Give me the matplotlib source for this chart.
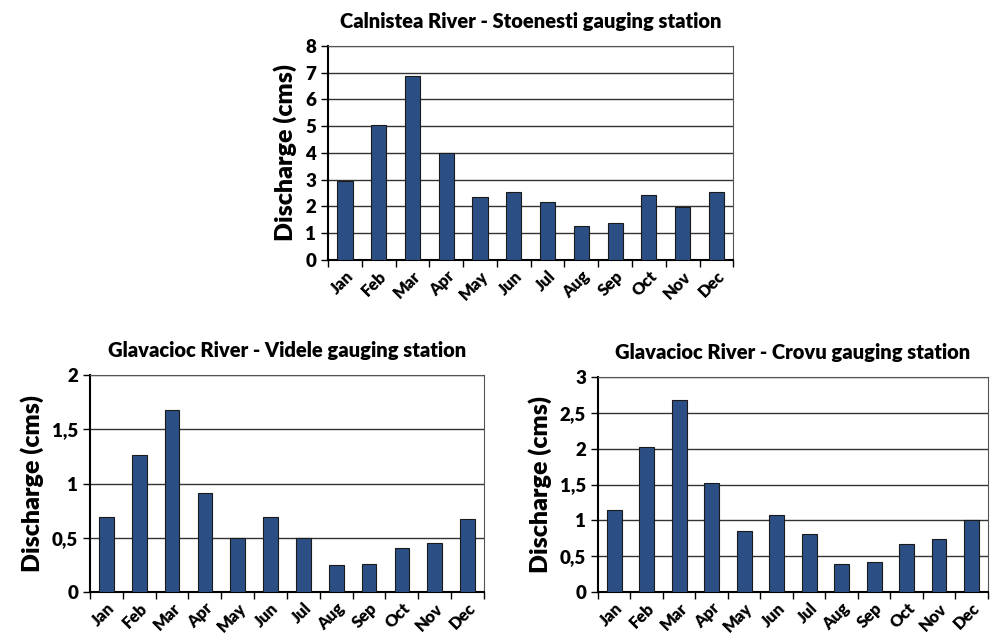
import matplotlib.pyplot as plt
from matplotlib.ticker import FuncFormatter, MultipleLocator, FixedLocator
import numpy as np

plt.rcParams['font.family'] = ['Lato', 'DejaVu Sans']
plt.rcParams['font.weight'] = 'bold'

months = ['Jan', 'Feb', 'Mar', 'Apr', 'May', 'Jun',
          'Jul', 'Aug', 'Sep', 'Oct', 'Nov', 'Dec']

# mean monthly discharge (cms) per gauging station
stoenesti = [2.97, 5.05, 6.86, 3.98, 2.35, 2.53, 2.17, 1.26, 1.37, 2.44, 1.99, 2.53]
videle = [0.69, 1.26, 1.68, 0.91, 0.50, 0.69, 0.50, 0.245, 0.257, 0.41, 0.45, 0.67]
crovu = [1.15, 2.03, 2.68, 1.52, 0.85, 1.07, 0.81, 0.39, 0.42, 0.67, 0.74, 1.0]

bar_color = '#2B4F85'


def comma(v, pos):
    # decimal comma on the axis labels
    s = ('%g' % v).replace('.', ',')
    return s


def draw(ax, values, title, ymax, step):
    x = np.arange(len(values))
    ax.bar(x, values, width=0.45, color=bar_color, edgecolor='#1a1a1a',
           linewidth=0.8, zorder=3)
    ax.set_xlim(-0.5, len(values) - 0.5)
    ax.set_ylim(0, ymax)
    ax.yaxis.set_major_locator(MultipleLocator(step))
    ax.yaxis.set_major_formatter(FuncFormatter(comma))
    ax.grid(axis='y', color='#333333', linewidth=1.0, zorder=0)
    ax.set_xticks(x)
    ax.set_xticklabels(months, rotation=45, ha='right', rotation_mode='anchor',
                       fontsize=12, fontweight='heavy')
    ax.xaxis.set_minor_locator(FixedLocator(np.arange(-0.5, len(values), 1)))
    ax.tick_params(axis='x', which='major', length=0, pad=6)
    ax.tick_params(axis='x', which='minor', length=5, width=1, direction='out')
    ax.tick_params(axis='y', length=5, width=1, direction='out', labelsize=13.5)
    for lab in ax.get_yticklabels():
        lab.set_fontweight('heavy')
    ax.spines['left'].set_linewidth(1.5)
    ax.spines['bottom'].set_linewidth(1.5)
    ax.spines['top'].set_color('#555555')
    ax.spines['right'].set_color('#555555')
    ax.set_ylabel('Discharge (cms)', fontsize=18, fontweight='heavy', labelpad=6)
    ax.set_title(title, fontsize=14.5, fontweight='heavy', pad=13)


fig = plt.figure(figsize=(9.91, 6.34), dpi=100)

ax1 = fig.add_axes([0.331, 0.590, 0.409, 0.3375])
draw(ax1, stoenesti, 'Calnistea River - Stoenesti gauging station', 8, 1)

ax2 = fig.add_axes([0.0908, 0.0662, 0.3976, 0.342])
draw(ax2, videle, 'Glavacioc River - Videle gauging station', 2, 0.5)

ax3 = fig.add_axes([0.6034, 0.0662, 0.3935, 0.339])
draw(ax3, crovu, 'Glavacioc River - Crovu gauging station', 3, 0.5)

fig.savefig('out.png', dpi=100)
